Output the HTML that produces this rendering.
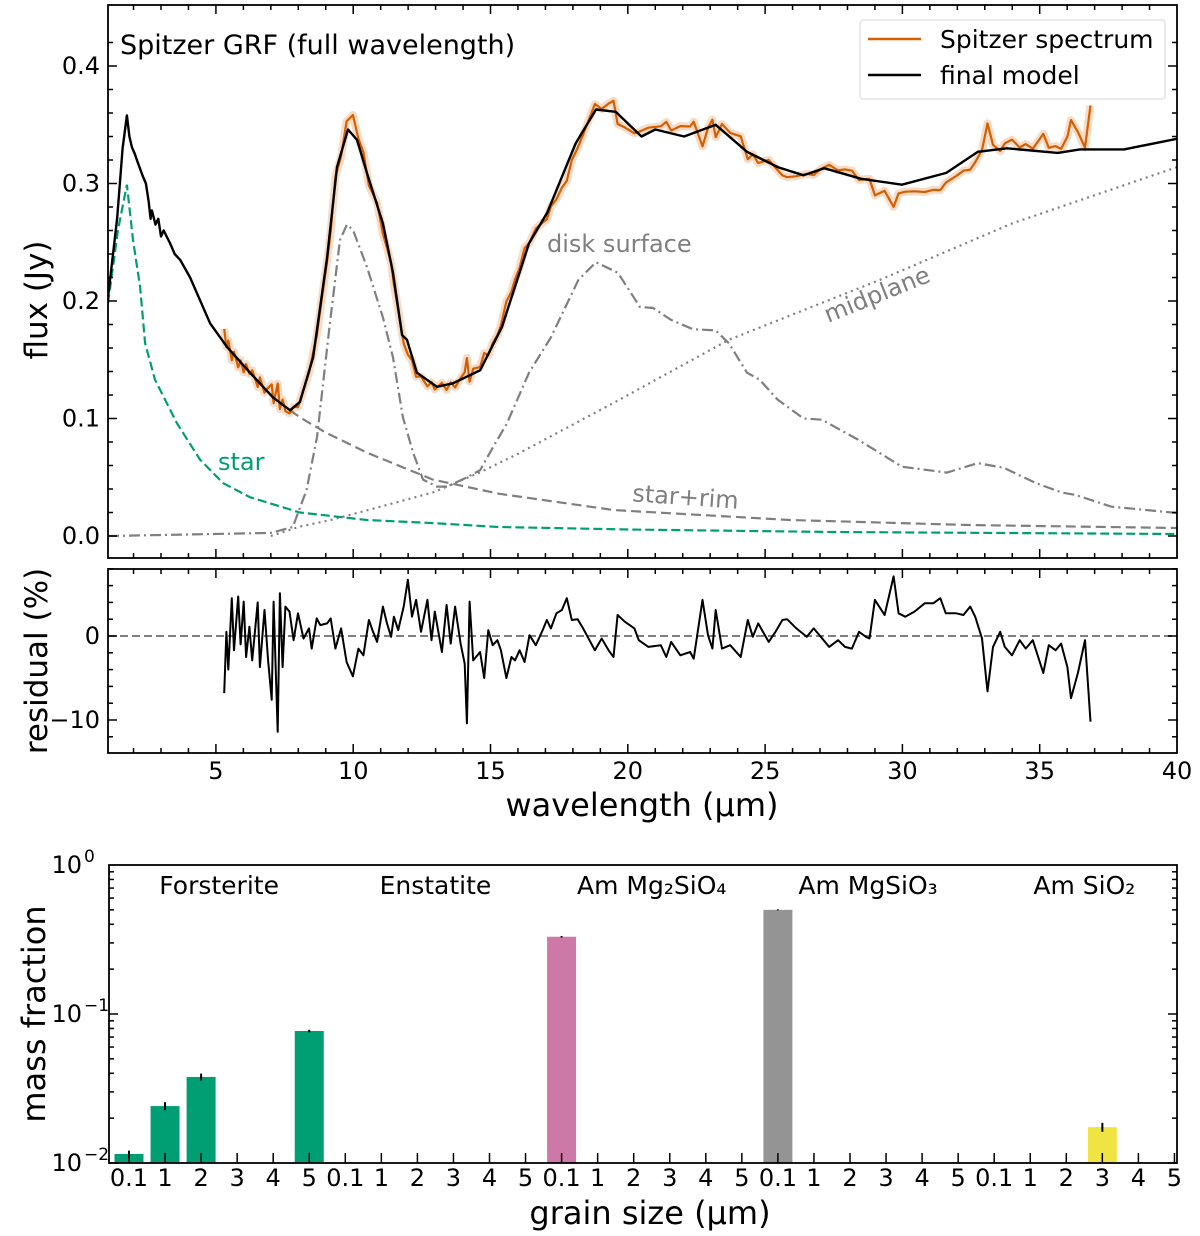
<!DOCTYPE html>
<html><head><meta charset="utf-8"><style>
body{margin:0;background:#fff}
svg{display:block;font-family:"DejaVu Sans","Liberation Sans",sans-serif}
</style></head><body>
<svg id="fig" width="1200" height="1236" viewBox="0 0 1200 1236" xmlns="http://www.w3.org/2000/svg">
<g id="topPanel"></g>
<g id="resPanel"></g>
<g id="botPanel"></g>
</svg>
<script>
const modelWl=[1.07,1.4,1.6,1.76,1.85,1.94,2.05,2.15,2.34,2.45,2.55,2.62,2.67,2.8,2.9,3.0,3.1,3.33,3.5,3.7,4.06,4.79,5.4,6.24,7.08,7.7,8.06,8.54,9.05,9.41,9.81,10.14,10.5,11.08,11.45,11.78,11.96,12.32,13.05,13.63,14.62,15.42,16.4,17.06,18.1,18.84,19.56,20.5,21.0,22.05,23.2,24.34,25.46,26.4,27.15,28.5,29.98,31.6,32.75,33.8,35.66,36.46,38.07,40];
const modelFlux=[.203,.27,.33,.358,.34,.331,.325,.318,.306,.30,.285,.27,.277,.265,.27,.255,.26,.249,.24,.235,.220,.181,.161,.139,.118,.107,.114,.152,.237,.314,.346,.337,.309,.266,.224,.171,.167,.139,.127,.130,.141,.178,.249,.275,.334,.363,.361,.340,.346,.340,.350,.327,.314,.307,.313,.304,.299,.309,.327,.330,.326,.329,.329,.338];
const residWl=[5.3,5.38,5.45,5.58,5.66,5.81,5.9,6.01,6.1,6.22,6.32,6.52,6.6,6.77,6.9,7.03,7.1,7.25,7.33,7.43,7.53,7.68,7.83,7.99,8.19,8.39,8.49,8.67,8.8,9.05,9.18,9.35,9.56,9.76,9.99,10.19,10.37,10.57,10.7,10.87,11.08,11.23,11.38,11.48,11.64,11.84,11.99,12.14,12.29,12.47,12.7,12.85,12.97,13.23,13.4,13.55,13.71,13.91,14.06,14.14,14.24,14.37,14.62,14.77,14.92,15.08,15.25,15.38,15.58,15.76,15.89,16.06,16.24,16.42,16.65,16.9,17.05,17.2,17.4,17.6,17.78,17.96,18.17,18.37,18.8,19.05,19.3,19.48,19.63,19.89,20.24,20.4,20.75,21.2,21.4,21.58,21.91,22.27,22.4,22.72,22.92,23.08,23.2,23.43,23.73,24.11,24.37,24.55,24.75,25.13,25.38,25.63,25.8,26.14,26.52,26.77,27.03,27.33,27.66,27.91,28.16,28.42,28.67,28.8,29.0,29.35,29.68,29.86,30.1,30.44,30.82,31.13,31.38,31.58,31.96,32.22,32.47,32.65,32.9,33.1,33.3,33.56,33.73,33.99,34.27,34.49,34.75,35.13,35.33,35.58,35.78,36.01,36.14,36.39,36.65,36.85];
const residVal=[-6.8,0.5,-4,4.5,-1.7,4.7,-1.0,4.1,-2.5,1.1,-2.9,4.0,-3.7,3.1,-2.9,-7.6,4.1,-11.4,5.1,-3.7,3.5,2.9,-0.5,2.7,-0.3,0.9,-1.5,2.1,1.3,1.5,2.1,-1.5,0.9,-3.1,-4.8,-1.5,-2.3,1.9,0.7,-0.7,3.5,1.5,-0.1,2.3,0.7,3.5,6.7,2.3,4.3,0.5,4.3,-0.5,2.9,-1.9,3.7,-0.9,3.5,-0.9,-3.3,-10.4,4.1,-2.9,-1.9,-5.0,0.7,-1.1,-0.5,-1.7,-5.0,-2.5,-2.9,-1.7,-3.1,0.1,-1.1,0.7,1.9,0.9,2.7,3.1,4.5,1.9,2.0,0.9,-1.7,-0.3,-1.7,-2.5,2.5,1.7,0.9,-0.5,-1.3,-1.1,-2.5,-0.7,-2.3,-1.9,-2.7,4.3,0.1,-1.5,3.1,-1.5,-1.1,-2.5,1.9,-0.1,1.5,-0.7,0.5,1.9,2.0,0.9,-0.1,0.9,-0.1,-1.3,-0.5,-1.3,-1.5,0.5,-0.1,-0.3,4.3,2.5,7.1,2.7,2.3,2.9,3.9,3.9,4.5,2.7,2.7,2.5,3.5,2.3,-0.3,-6.6,-1.3,0.5,-1.3,-2.3,-0.5,-1.5,-0.5,-4.4,-1.1,-1.7,-0.9,-3.7,-7.4,-4.4,-0.5,-10.2];
const starWl=[1.07,1.43,1.76,1.98,2.24,2.42,2.78,3.58,4.42,5.26,6.24,8.06,10.5,12.9,15.3,20,27.5,40];
const starFlux=[.198,.26,.299,.252,.212,.164,.133,.096,.065,.045,.033,.020,.0136,.011,.0077,.0055,.0034,.0017];
const rimWl=[7.7,8.06,9,10.5,12.9,15.3,19.5,25.9,32.4,40];
const rimFlux=[.107,.101,.088,.071,.048,.036,.022,.0136,.0094,.0068];
const surfWl=[1.07,7.0,7.8,8.3,8.68,9.15,9.52,9.77,10.0,10.5,11.08,11.45,11.81,12.18,12.54,13.05,13.42,14.14,14.62,15.1,15.6,16.4,17.2,18.2,18.84,19.64,20.44,20.92,21.57,22.37,23.2,23.68,24.34,24.8,25.46,26.4,27.07,28.38,29.98,31.62,32.75,33.7,34.86,35.8,36.3,37.6,40];
const surfFlux=[0,.0026,.0077,.039,.084,.181,.252,.265,.260,.229,.186,.152,.101,.071,.048,.042,.042,.050,.056,.076,.096,.139,.169,.218,.233,.224,.195,.194,.184,.176,.175,.164,.139,.133,.116,.100,.099,.082,.059,.054,.062,.058,.045,.037,.035,.025,.0196];
const midWl=[7.0,8.06,9.26,12.9,14.6,16,19.46,23.68,29.18,34,40];
const midFlux=[0,.008,.014,.037,.054,.07,.113,.167,.218,.266,.314];
const wlTicks=[5,10,15,20,25,30,35,40];
const fluxTicks=[0,0.1,0.2,0.3,0.4];
const residTicks=[0,-10];
const sizeLabels=["0.1","1","2","3","4","5"];
const species=["Forsterite","Enstatite","Am Mg₂SiO₄","Am MgSiO₃","Am SiO₂"];
const barIndex=[0,1,2,5,12,18,27];
const barValue=[0.0115,0.0241,0.0378,0.0769,0.33,0.50,0.0174];
const barErr=[0.0006,0.0015,0.002,0.0015,0.004,0.004,0.0012];
const barColor=["#009e73","#009e73","#009e73","#009e73","#cc79a7","#949494","#f0e442"];

const NS="http://www.w3.org/2000/svg";
function mk(parent,tag,attrs,text){const e=document.createElementNS(NS,tag);for(const k in attrs)e.setAttribute(k,attrs[k]);if(text!==undefined)e.textContent=text;parent.appendChild(e);return e;}
const X0=108,X1=1177,WL0=1.07,WL1=40;
const xs=w=>X0+(w-WL0)/(WL1-WL0)*(X1-X0);
const ys=f=>536-f*1175;
const yr=r=>636-r*8.4;
function interp(xa,ya,x){if(x<=xa[0])return ya[0];for(let i=1;i<xa.length;i++){if(x<=xa[i]){const t=(x-xa[i-1])/(xa[i]-xa[i-1]);return ya[i-1]+t*(ya[i]-ya[i-1]);}}return ya[ya.length-1];}
const pts=(xa,ya,fy)=>xa.map((w,i)=>xs(w).toFixed(1)+","+fy(ya[i]).toFixed(1)).join(" ");

const topG=document.getElementById('topPanel');
const defs=mk(topG,'defs',{});const cp=mk(defs,'clipPath',{id:'c1'});mk(cp,'rect',{x:X0,y:5,width:X1-X0,height:553});
const plot=mk(topG,'g',{'clip-path':'url(#c1)'});
let e;
e=mk(plot,'polyline',{points:pts(midWl,midFlux,ys),fill:'none',stroke:'#7f7f7f','stroke-width':2.2,'stroke-dasharray':'2,4.2'});

e=mk(plot,'polyline',{points:pts(surfWl,surfFlux,ys),fill:'none',stroke:'#7f7f7f','stroke-width':2.2,'stroke-dasharray':'11,4,2,4'});

e=mk(plot,'polyline',{points:pts(rimWl,rimFlux,ys),fill:'none',stroke:'#7f7f7f','stroke-width':2.2,'stroke-dasharray':'10,5'});

e=mk(plot,'polyline',{points:pts(starWl,starFlux,ys),fill:'none',stroke:'#009e73','stroke-width':2.2,'stroke-dasharray':'9,4'});

const obsFlux=residWl.map((w,i)=>interp(modelWl,modelFlux,w)/(1+residVal[i]/100));
e=mk(plot,'polyline',{points:pts(residWl,obsFlux,ys),fill:'none',stroke:'rgba(213,94,0,0.22)','stroke-width':8,'stroke-linejoin':'round'});

e=mk(plot,'polyline',{points:pts(residWl,obsFlux,ys),fill:'none',stroke:'#d55e00','stroke-width':2.2,'stroke-linejoin':'round'});

e=mk(plot,'polyline',{points:pts(modelWl,modelFlux,ys),fill:'none',stroke:'#000','stroke-width':2.4,'stroke-linejoin':'round'});


function frame(g,x0,y0,x1,y1){mk(g,'rect',{x:x0,y:y0,width:x1-x0,height:y1-y0,fill:'none',stroke:'#000','stroke-width':1.8});}
frame(topG,X0,5,X1,558);
const tk=(g,x1,y1,x2,y2)=>mk(g,'line',{x1,y1,x2,y2,stroke:'#000','stroke-width':1.5});
function xTicks(g,yt,yb){for(let w=2;w<=39;w++){const x=xs(w),L=(w%5===0)?9:5;tk(g,x,yt,x,yt+L);tk(g,x,yb,x,yb-L);}}
xTicks(topG,5,558);
for(let f=0;f<=0.44;f+=0.02){const y=ys(f);const L=(Math.round(f*100)%10===0)?9:5;tk(topG,X0,y,X0+L,y);tk(topG,X1,y,X1-L,y);}
fluxTicks.forEach(f=>{e=mk(topG,'text',{x:100,y:ys(f)+8,'text-anchor':'end','font-size':24},f.toFixed(1));});
e=mk(topG,'text',{x:0,y:0,transform:'translate(47,300) rotate(-90)','text-anchor':'middle','font-size':31},'flux (Jy)');

e=mk(topG,'text',{x:120,y:54,'font-size':27},'Spitzer GRF (full wavelength)');

e=mk(topG,'text',{x:547,y:252,'font-size':24,fill:'#7f7f7f'},'disk surface');

e=mk(topG,'text',{x:0,y:0,transform:'translate(880,302) rotate(-22)','text-anchor':'middle','font-size':24,fill:'#7f7f7f'},'midplane');

e=mk(topG,'text',{x:218,y:470,'font-size':24,fill:'#009e73'},'star');

e=mk(topG,'text',{x:0,y:0,transform:'translate(685,505) rotate(4)','text-anchor':'middle','font-size':24,fill:'#7f7f7f'},'star+rim');

const lg=mk(topG,'g',{});
mk(lg,'rect',{x:860,y:20,width:305,height:79,rx:3,fill:'#fff',stroke:'#ddd','stroke-width':1.2});
mk(lg,'line',{x1:868,y1:39,x2:921,y2:39,stroke:'#d55e00','stroke-width':2.4});
mk(lg,'line',{x1:868,y1:75,x2:921,y2:75,stroke:'#000','stroke-width':2.4});
e=mk(lg,'text',{x:940,y:48,'font-size':25},'Spitzer spectrum');
e=mk(lg,'text',{x:940,y:84,'font-size':25},'final model');

const resG=document.getElementById('resPanel');
mk(resG,'line',{x1:X0,y1:yr(0),x2:X1,y2:yr(0),stroke:'#7f7f7f','stroke-width':2,'stroke-dasharray':'8,4'});
e=mk(resG,'polyline',{points:pts(residWl,residVal,yr),fill:'none',stroke:'#000','stroke-width':2,'stroke-linejoin':'round'});

frame(resG,X0,569,X1,753);
xTicks(resG,569,753);
for(let r=-12;r<=8;r+=2){const y=yr(r);const L=(r%10===0)?9:5;tk(resG,X0,y,X0+L,y);tk(resG,X1,y,X1-L,y);}
residTicks.forEach(r=>{e=mk(resG,'text',{x:100,y:yr(r)+8,'text-anchor':'end','font-size':24},r<0?'−'+Math.abs(r):String(r));});
wlTicks.forEach(w=>{e=mk(resG,'text',{x:xs(w),y:779,'text-anchor':'middle','font-size':24},String(w));});
e=mk(resG,'text',{x:0,y:0,transform:'translate(47,661) rotate(-90)','text-anchor':'middle','font-size':31},'residual (%)');

e=mk(resG,'text',{x:642,y:816,'text-anchor':'middle','font-size':32},'wavelength (μm)');


const botG=document.getElementById('botPanel');
const BX0=109,BX1=1177,BY0=865,BY1=1163;
const bx=i=>129+i*36.05;
const by=v=>BY0-(Math.log10(v))*149;
barIndex.forEach((idx,k)=>{
  e=mk(botG,'rect',{x:bx(idx)-14.5,y:by(barValue[k]),width:29,height:BY1-by(barValue[k]),fill:barColor[k]});
  
  e=mk(botG,'line',{x1:bx(idx),y1:by(barValue[k]+barErr[k]),x2:bx(idx),y2:by(barValue[k]-barErr[k]),stroke:'#000','stroke-width':2});
  
});
frame(botG,BX0,BY0,BX1,BY1);
for(let i=0;i<30;i++){tk(botG,bx(i),BY1,bx(i),BY1-10);
  e=mk(botG,'text',{x:bx(i),y:1186,'text-anchor':'middle','font-size':24},sizeLabels[i%6]);}
for(let d=-2;d<0;d++){for(let m=1;m<10;m++){const y=by(m*Math.pow(10,d));const L=m===1?9:5;tk(botG,BX0,y,BX0+L,y);tk(botG,BX1,y,BX1-L,y);}}
[0,-1,-2].forEach(p=>{const t=mk(botG,'text',{x:82,y:by(Math.pow(10,p))+8,'text-anchor':'end','font-size':24},'10');
  
  e=mk(botG,'text',{x:84,y:by(Math.pow(10,p))-3,'font-size':17},p<0?'−'+Math.abs(p):'0');
  });
species.forEach((s,k)=>{e=mk(botG,'text',{x:bx(k*6+2.5),y:894,'text-anchor':'middle','font-size':25},s);});
e=mk(botG,'text',{x:0,y:0,transform:'translate(45,1014) rotate(-90)','text-anchor':'middle','font-size':32},'mass fraction');

e=mk(botG,'text',{x:650,y:1224,'text-anchor':'middle','font-size':32},'grain size (μm)');

</script>
</body></html>
